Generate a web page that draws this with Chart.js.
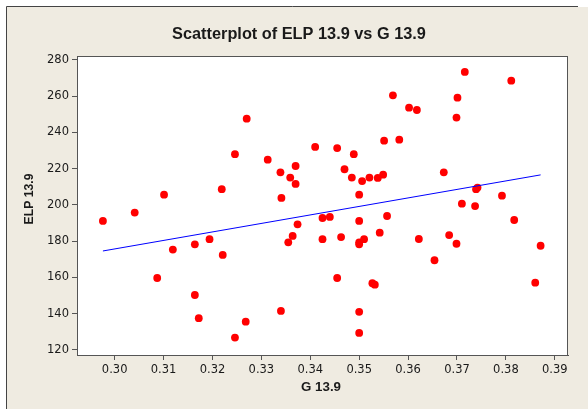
<!DOCTYPE html>
<html>
<head>
<meta charset="utf-8">
<script src="https://cdn.jsdelivr.net/npm/chart.js@4/dist/chart.umd.min.js"></script>
<style>
  html, body { margin: 0; padding: 0; background: #fff; }
  canvas { display: block; }
</style>
</head>
<body>
<canvas id="scatter" width="588" height="409"></canvas>
<script>
// G 13.9 (x) and ELP 13.9 (y), one entry per observation
const gValues = [
  0.2976, 0.3041, 0.3087, 0.3101, 0.3119, 0.3164, 0.3164, 0.3172, 0.3194, 0.3219,
  0.3221, 0.3246, 0.3246, 0.3268, 0.3270, 0.3313, 0.3339, 0.3340, 0.3341, 0.3355,
  0.3359, 0.3364, 0.3370, 0.3370, 0.3374, 0.3410, 0.3425, 0.3425, 0.3440, 0.3455,
  0.3455, 0.3463, 0.3470, 0.3485, 0.3489, 0.3500, 0.3500, 0.3500, 0.3500, 0.3500,
  0.3500, 0.3506, 0.3510, 0.3521, 0.3527, 0.3532, 0.3538, 0.3542, 0.3549, 0.3551,
  0.3557, 0.3569, 0.3582, 0.3602, 0.3618, 0.3622, 0.3654, 0.3673, 0.3684, 0.3699,
  0.3699, 0.3701, 0.3710, 0.3716, 0.3737, 0.3739, 0.3742, 0.3792, 0.3811, 0.3817,
  0.3860, 0.3871
];
const elpValues = [
  191.2, 195.8, 159.7, 205.7, 175.4, 178.3, 150.3, 137.5, 181.1, 208.7,
  172.4, 228.0, 126.8, 135.6, 247.6, 225.0, 218.0, 141.5, 203.9, 179.4,
  215.1, 182.9, 221.5, 211.6, 189.3, 232.0, 192.8, 181.1, 193.4, 231.4,
  159.7, 182.3, 219.7, 215.1, 228.0, 205.7, 191.2, 179.4, 178.3, 141.0,
  129.4, 213.2, 181.1, 215.1, 156.8, 156.0, 214.9, 184.7, 216.7, 235.5,
  193.9, 260.5, 236.0, 253.7, 252.4, 181.2, 169.5, 218.0, 183.4, 248.2,
  178.6, 259.2, 200.7, 273.4, 199.4, 208.7, 209.6, 205.1, 268.6, 191.7,
  157.1, 177.5
];
// fitted line end points
const fitX = [0.2976, 0.3871];
const fitY = [174.6, 216.6];

const xTicks = [0.30, 0.31, 0.32, 0.33, 0.34, 0.35, 0.36, 0.37, 0.38, 0.39];
const yTicks = [120, 140, 160, 180, 200, 220, 240, 260, 280];

const TEXT = '#1a1a1a';
const FRAME = '#555';
const BEIGE = '#EFEBE1';

const points = gValues.map((g, i) => ({ x: g, y: elpValues[i] }));
const fitLine = fitX.map((g, i) => ({ x: g, y: fitY[i] }));

// pick a font size so the text spans the given width
function fitFont(ctx, text, width, family) {
  ctx.font = 'bold 100px ' + family;
  const size = 100 * width / ctx.measureText(text).width;
  return 'bold ' + size.toFixed(2) + 'px ' + family;
}

const frame = {
  id: 'frame',
  beforeDraw(chart) {
    const { ctx, chartArea: a } = chart;
    ctx.save();
    ctx.fillStyle = '#fff';
    ctx.fillRect(0, 0, chart.width, chart.height);
    ctx.fillStyle = BEIGE;
    ctx.fillRect(7, 7, chart.width - 7, chart.height - 7);
    ctx.strokeStyle = '#444';
    ctx.lineWidth = 1;
    ctx.beginPath();
    ctx.moveTo(6.5, chart.height);
    ctx.lineTo(6.5, 6.5);
    ctx.lineTo(578, 6.5);
    ctx.stroke();
    ctx.fillStyle = '#fff';
    ctx.fillRect(a.left, a.top, a.right - a.left, a.bottom - a.top);
    ctx.restore();
  },
  afterDraw(chart) {
    const { ctx, chartArea: a } = chart;
    ctx.save();
    ctx.strokeStyle = FRAME;
    ctx.lineWidth = 1;
    ctx.strokeRect(a.left + 0.5, a.top + 0.5, a.right - a.left - 1, a.bottom - a.top);

    const family = '"Liberation Sans", Arial, sans-serif';
    ctx.fillStyle = TEXT;
    ctx.textAlign = 'center';
    ctx.textBaseline = 'middle';
    const title = 'Scatterplot of ELP 13.9 vs G 13.9';
    ctx.font = fitFont(ctx, title, 254, family);
    ctx.fillText(title, 299, 34);

    ctx.font = fitFont(ctx, 'G 13.9', 40, family);
    ctx.fillText('G 13.9', 321, 387);

    ctx.translate(30, 199);
    ctx.rotate(-Math.PI / 2);
    ctx.font = fitFont(ctx, 'ELP 13.9', 51, family);
    ctx.fillText('ELP 13.9', 0, 0);
    ctx.restore();
  }
};

const tickFont = { family: '"DejaVu Sans", sans-serif', size: 11.5 };

new Chart(document.getElementById('scatter'), {
  type: 'scatter',
  data: {
    datasets: [
      {
        type: 'line',
        data: fitLine,
        borderColor: '#0000FF',
        borderWidth: 1,
        pointRadius: 0,
        fill: false
      },
      {
        data: points,
        backgroundColor: '#FF0000',
        borderWidth: 0,
        pointRadius: 3.9
      }
    ]
  },
  options: {
    responsive: false,
    animation: false,
    layout: { padding: { left: 0, top: 56, right: 20, bottom: 0 } },
    plugins: { legend: { display: false }, tooltip: { enabled: false } },
    scales: {
      x: {
        type: 'linear',
        min: 0.2923,
        max: 0.3927,
        afterBuildTicks: s => { s.ticks = xTicks.map(v => ({ value: v })); },
        afterFit: s => { s.height = 54; },
        ticks: { color: TEXT, font: tickFont, padding: 3, callback: v => v.toFixed(2) },
        grid: { drawOnChartArea: false, tickLength: 5, color: FRAME },
        border: { color: FRAME }
      },
      y: {
        min: 117.2,
        max: 282.2,
        afterBuildTicks: s => { s.ticks = yTicks.map(v => ({ value: v })); },
        afterFit: s => { s.width = 77; },
        ticks: { color: TEXT, font: tickFont, padding: 3 },
        grid: { drawOnChartArea: false, tickLength: 5, color: FRAME },
        border: { color: FRAME }
      }
    }
  },
  plugins: [frame]
});
</script>
</body>
</html>
